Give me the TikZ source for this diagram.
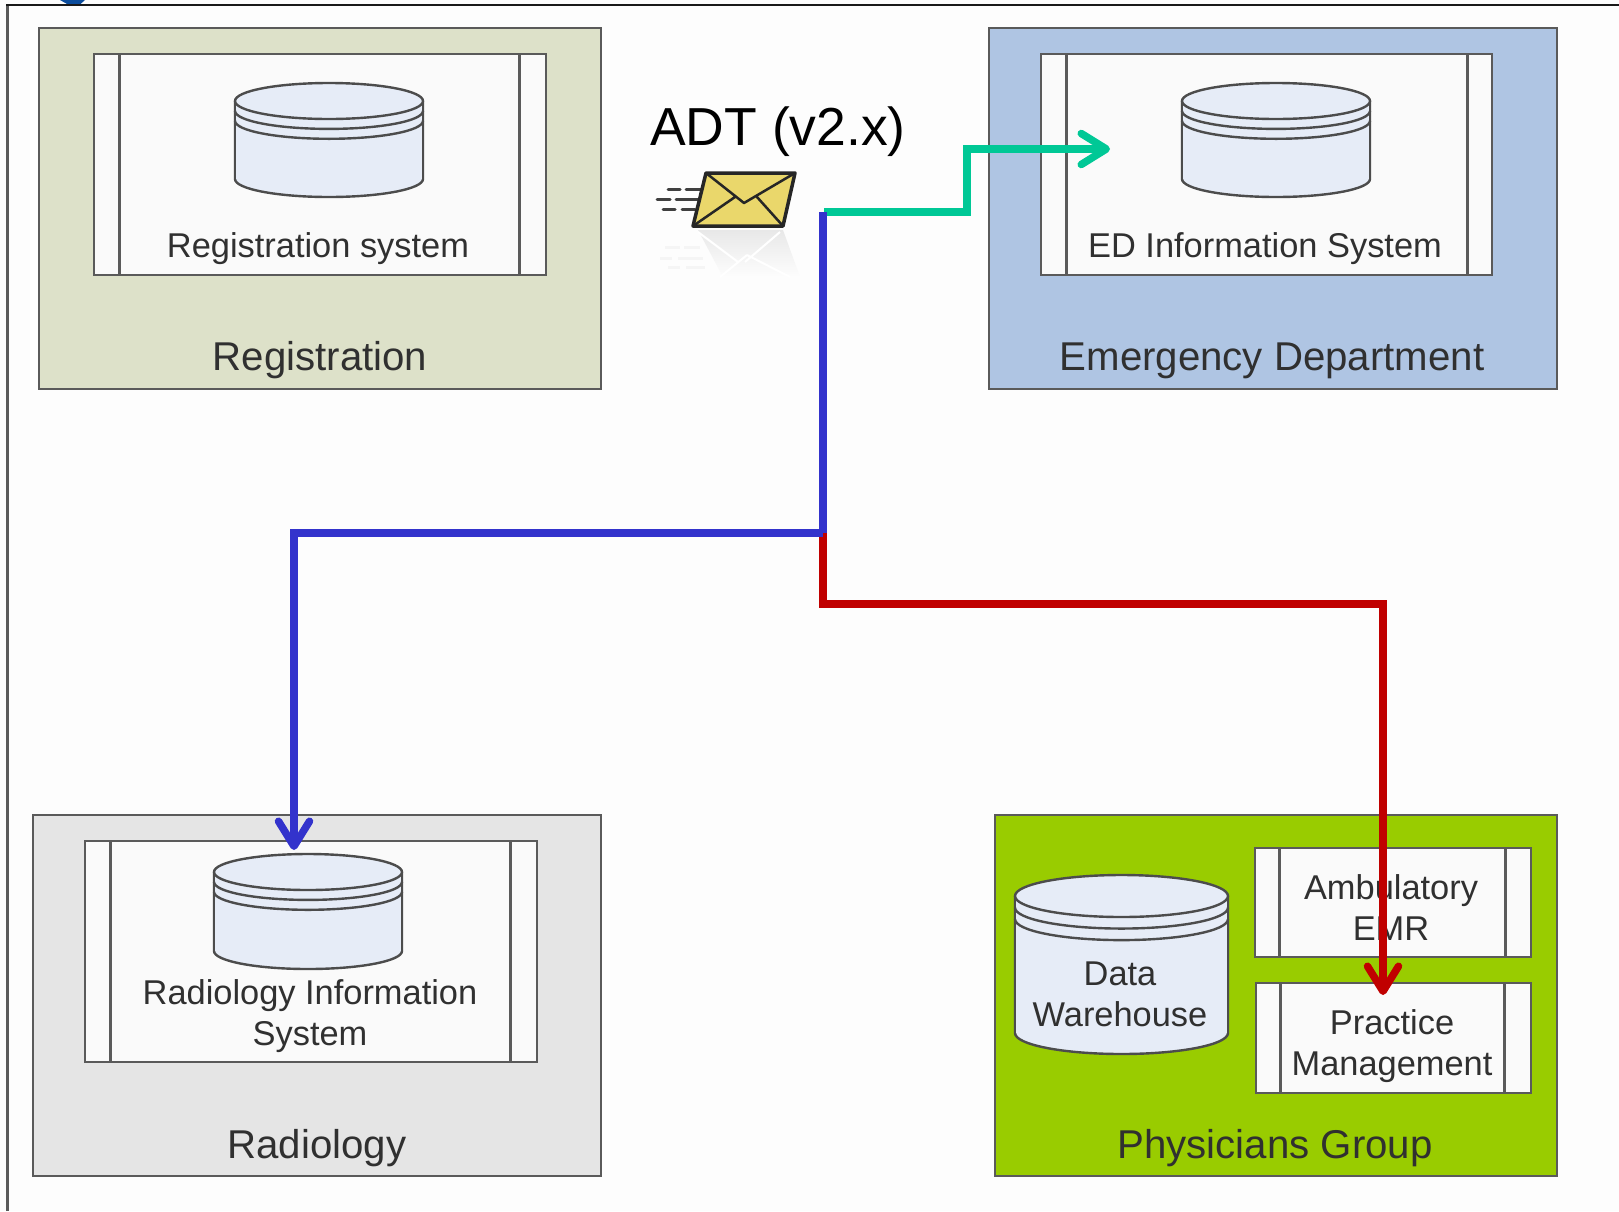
\documentclass[tikz,border=0pt]{standalone}
\usepackage{fontspec}
\setmainfont{Liberation Sans}
\usetikzlibrary{arrows.meta,shadings}
\definecolor{pagebg}{HTML}{FDFDFD}
\definecolor{regfill}{HTML}{DDE1C9}
\definecolor{edfill}{HTML}{AFC5E3}
\definecolor{radfill}{HTML}{E5E5E5}
\definecolor{phyfill}{HTML}{99CC00}
\definecolor{edgegray}{HTML}{5A5A5A}
\definecolor{boxfill}{HTML}{FAFAFA}
\definecolor{cylfill}{HTML}{E6ECF7}
\definecolor{txt}{HTML}{303030}
\definecolor{lnblue}{HTML}{3333CC}
\definecolor{lnred}{HTML}{C00000}
\definecolor{lngreen}{HTML}{00C896}
\definecolor{envfill}{HTML}{EAD76B}
\definecolor{fragblue}{HTML}{0B4C9C}
\tikzset{
  panel/.style={draw=edgegray,line width=2.3pt,inner sep=0pt,rectangle},
  procbox/.style={draw=edgegray,fill=boxfill,line width=2.2pt,inner sep=0pt,rectangle},
  sublabel/.style={text=txt,font=\fontsize{34.4}{41}\selectfont,align=center,inner sep=0pt},
  panellabel/.style={text=txt,font=\fontsize{40.2}{46}\selectfont,align=center,inner sep=0pt},
  cyl/.style={draw=black!70,fill=cylfill,line width=2.4pt},
  flow/.style={line width=7.5pt,-{Straight Barb[length=25pt,width=31pt,line width=7.5pt,round]}},
}
\newcommand{\procshape}[7]{% name, x1, y1, x2, y2, bar1, bar2
  \node[procbox,minimum width={#4pt-#2pt},minimum height={#5pt-#3pt},anchor=north west] (#1) at (#2,#3) {};
  \draw[edgegray,line width=3pt] (#6,#3) -- (#6,#5) (#7,#3) -- (#7,#5);
}
\newcommand{\dbcyl}[5]{% cx, cy, rx, ry, side height
  \begin{scope}[shift={(#1,#2)}]
    \draw[cyl] (-#3,0) -- (-#3,#5) arc[start angle=180,end angle=0,x radius=#3,y radius=#4] -- (#3,0);
    \fill[cylfill] (-#3,0) rectangle (#3,#5);
    \draw[cyl,fill=none] (-#3,0) -- (-#3,#5) (#3,0) -- (#3,#5);
    \draw[cyl,fill=none] (-#3,{#4*0.55}) arc[start angle=180,end angle=0,x radius=#3,y radius=#4];
    \draw[cyl,fill=none] (-#3,{#4*1.1}) arc[start angle=180,end angle=0,x radius=#3,y radius=#4];
    \draw[cyl] (0,0) ellipse[x radius=#3,y radius=#4];
  \end{scope}
}
\begin{document}
\begin{tikzpicture}[x=1pt,y=-1pt]
\useasboundingbox (0,0) rectangle (1619,1211);
\fill[pagebg] (0,0) rectangle (1619,1211);
% top-left fragment and frame
\fill[fragblue] (60,0) -- (85,0) -- (80,4.5) -- (68,4.5) -- cycle;
\draw[edgegray,line width=2.4pt] (7.5,1211) -- (7.5,5);
\draw[black!90,line width=2.2pt] (6.3,5) -- (1619,5);
% panels
\node[panel,fill=regfill,minimum width=562pt,minimum height=361pt,anchor=north west] (registration) at (38,27) {};
\node[panel,fill=edfill,minimum width=568pt,minimum height=361pt,anchor=north west] (emergency) at (988,27) {};
\node[panel,fill=radfill,minimum width=568pt,minimum height=361pt,anchor=north west] (radiology) at (32,814) {};
\node[panel,fill=phyfill,minimum width=562pt,minimum height=361pt,anchor=north west] (physicians) at (994,814) {};
\node[panellabel] (lreg) at (320,360) {Registration};
\node[panellabel] (led) at (1272,361) {Emergency Department};
\node[panellabel] (lrad) at (317,1148) {Radiology};
\node[panellabel] (lphy) at (1275,1148) {Physicians Group};
% process boxes
\procshape{regsys}{93}{53}{545}{274}{119.5}{519.5}
\procshape{edsys}{1040}{53}{1491}{274}{1066}{1467}
\procshape{radsys}{84}{840}{536}{1061}{110.5}{510.5}
\procshape{ambsys}{1254}{847}{1530}{956}{1279.5}{1505.5}
\procshape{pmsys}{1255}{982}{1530}{1092}{1280.5}{1504.5}
% cylinders
\dbcyl{329}{101}{94}{18}{78}
\dbcyl{1276}{101}{94}{18}{78}
\dbcyl{308}{872}{94}{18}{79}
\dbcyl{1121.5}{896}{106.5}{21}{137}
% sub labels
\node[sublabel] (treg) at (318,249) {Registration system};
\node[sublabel] (ted) at (1265,249) {ED Information System};
\node[sublabel] (trad) at (310,1016) {Radiology Information\\System};
\node[sublabel] (tdw) at (1120,994) {Data\\Warehouse};
\node[sublabel] (tamb) at (1391,908) {Ambulatory\\EMR};
\node[sublabel] (tpm) at (1392,1046) {Practice\\Management};
% ADT label
\node[text=black,font=\fontsize{53.5}{60}\selectfont,inner sep=0pt] (adt) at (778,132) {ADT (v2.x)};
% envelope reflection
\shade[top color=black!9,bottom color=pagebg] (698,230) -- (783,230) -- (800,277) -- (723,277) -- cycle;
\draw[white,line width=2pt] (698,232) -- (738,262) (747,255) -- (790,277) (780,232) -- (745,262) (747,255) -- (720,277);
\draw[black!4,line width=3pt] (665,247) -- (680,247) (684,247) -- (700,247) (660,258) -- (672,258) (678,258) -- (703,258) (668,267) -- (680,267) (686,267) -- (705,267);
% envelope
\draw[black!75,line width=3pt,line cap=round] (668,189) -- (680,189) (686,189) -- (701,189) (657,199) -- (670,199) (676,199) -- (698,199) (663,209) -- (675,209) (682,209) -- (695,209);
\draw[black!85,fill=envfill,line width=3.5pt,line join=round] (706,173) -- (795,173) -- (783,226) -- (693,226) -- cycle;
\draw[black!85,line width=2.5pt,line join=round] (706,173) -- (744,203) -- (795,173) (693,226) -- (735,197) (783,226) -- (757,197);
% connectors
\coordinate (adtout) at (824,212);
\coordinate (split) at (823,533);
\coordinate (edin) at (1110,149);
\coordinate (radin) at (294,850);
\coordinate (pmin) at (1383,995);
\draw[flow,lngreen] (adtout) -- ++(143,0) |- (edin);
\draw[flow,lnred] (split) -- ++(0,71) -| (pmin);
\draw[flow,lnblue] (split) -| (radin);
\draw[lnblue,line width=7.5pt] (split) -- (823,212);
\end{tikzpicture}
\end{document}
